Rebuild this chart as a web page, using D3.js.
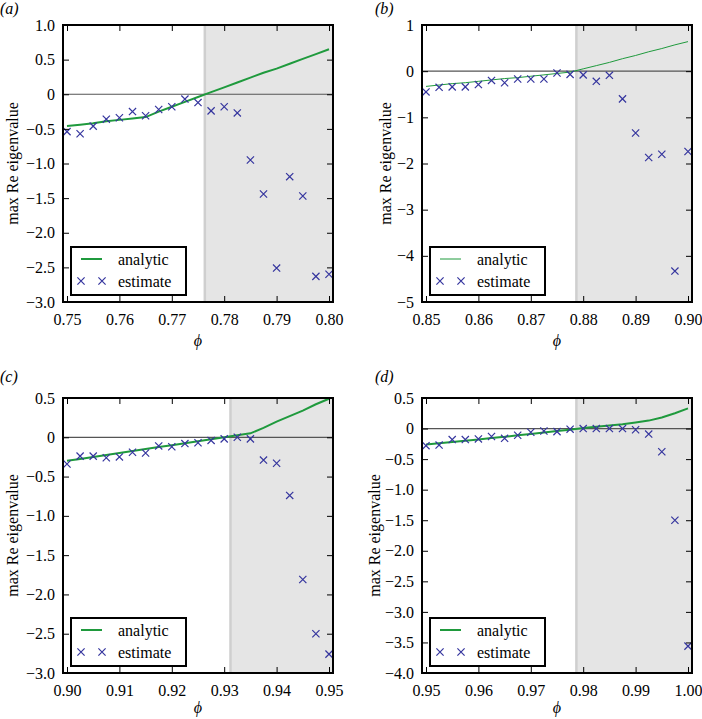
<!DOCTYPE html>
<html>
<head>
<meta charset="utf-8">
<script src="https://cdn.jsdelivr.net/npm/d3@7"></script>
</head>
<body style="margin:0; background:#fff">
<script>
// phi grids (x values) for each panel
const phiA = [0.75, 0.7525, 0.755, 0.7575, 0.76, 0.7625, 0.765, 0.7675, 0.77, 0.7725, 0.775, 0.7775, 0.78, 0.7825, 0.785, 0.7875, 0.79, 0.7925, 0.795, 0.7975, 0.80];
const phiB = [0.85, 0.8525, 0.855, 0.8575, 0.86, 0.8625, 0.865, 0.8675, 0.87, 0.8725, 0.875, 0.8775, 0.88, 0.8825, 0.885, 0.8875, 0.89, 0.8925, 0.895, 0.8975, 0.90];
const phiC = [0.90, 0.9025, 0.905, 0.9075, 0.91, 0.9125, 0.915, 0.9175, 0.92, 0.9225, 0.925, 0.9275, 0.93, 0.9325, 0.935, 0.9375, 0.94, 0.9425, 0.945, 0.9475, 0.95];
const phiD = [0.95, 0.9525, 0.955, 0.9575, 0.96, 0.9625, 0.965, 0.9675, 0.97, 0.9725, 0.975, 0.9775, 0.98, 0.9825, 0.985, 0.9875, 0.99, 0.9925, 0.995, 0.9975, 1.00];

// estimated max Re eigenvalue (crosses)
const estimateA = [-0.54, -0.57, -0.46, -0.36, -0.34, -0.25, -0.31, -0.22, -0.18, -0.07, -0.12, -0.24, -0.18, -0.27, -0.95, -1.44, -2.51, -1.19, -1.47, -2.63, -2.60];
const estimateB = [-0.45, -0.35, -0.34, -0.34, -0.29, -0.20, -0.25, -0.17, -0.17, -0.17, -0.04, -0.07, -0.08, -0.22, -0.09, -0.60, -1.34, -1.87, -1.80, -4.33, -1.74];
const estimateC = [-0.34, -0.24, -0.24, -0.26, -0.25, -0.19, -0.20, -0.11, -0.12, -0.08, -0.07, -0.04, -0.02, 0.00, -0.02, -0.29, -0.33, -0.74, -1.81, -2.50, -2.76];
const estimateD = [-0.28, -0.27, -0.18, -0.18, -0.17, -0.13, -0.16, -0.11, -0.06, -0.04, -0.05, -0.01, 0.00, 0.00, 0.00, 0.00, -0.02, -0.09, -0.38, -1.50, -3.56];

// analytic curve (green line)
const analyticA = [-0.46, -0.44, -0.42, -0.39, -0.37, -0.35, -0.33, -0.25, -0.18, -0.11, -0.04, 0.03, 0.10, 0.17, 0.24, 0.31, 0.37, 0.44, 0.51, 0.58, 0.65];
const analyticB = [-0.33, -0.30, -0.27, -0.25, -0.22, -0.19, -0.16, -0.14, -0.11, -0.08, -0.05, -0.02, 0.05, 0.12, 0.19, 0.27, 0.34, 0.42, 0.49, 0.57, 0.64];
const analyticC = [-0.30, -0.275, -0.25, -0.225, -0.20, -0.175, -0.15, -0.125, -0.10, -0.075, -0.05, -0.025, 0.00, 0.025, 0.05, 0.12, 0.20, 0.27, 0.34, 0.42, 0.49];
const analyticD = [-0.26, -0.24, -0.22, -0.20, -0.18, -0.155, -0.135, -0.11, -0.09, -0.065, -0.04, -0.02, 0.01, 0.03, 0.05, 0.07, 0.10, 0.13, 0.18, 0.25, 0.33];

// start of the shaded (unstable) region
const thresholdA = 0.7763;
const thresholdB = 0.8787;
const thresholdC = 0.9312;
const thresholdD = 0.9787;

// tick values
const xTicksA = [0.75, 0.76, 0.77, 0.78, 0.79, 0.80];
const xTicksB = [0.85, 0.86, 0.87, 0.88, 0.89, 0.90];
const xTicksC = [0.90, 0.91, 0.92, 0.93, 0.94, 0.95];
const xTicksD = [0.95, 0.96, 0.97, 0.98, 0.99, 1.00];
const yTicksA = [1.0, 0.5, 0, -0.5, -1.0, -1.5, -2.0, -2.5, -3.0];
const yTicksB = [1, 0, -1, -2, -3, -4, -5];
const yTicksC = [0.5, 0, -0.5, -1.0, -1.5, -2.0, -2.5, -3.0];
const yTicksD = [0.5, 0, -0.5, -1.0, -1.5, -2.0, -2.5, -3.0, -3.5, -4.0];

const panelLabels = ["(a)", "(b)", "(c)", "(d)"];

const serif = "'Liberation Serif'";

const svg = d3.select("body")
    .append("svg")
    .attr("width", 702)
    .attr("height", 719);

const green = "#1f9a3d";
const blue = "#35359e";

const panels = [
    { label: panelLabels[0], phi: phiA, est: estimateA, ana: analyticA, thr: thresholdA, xt: xTicksA, yt: yTicksA, left: 63, top: 25, h: 277, lineW: 2, dec: 1, xlab: 44, ylab: -45, plab: -11 },
    { label: panelLabels[1], phi: phiB, est: estimateB, ana: analyticB, thr: thresholdB, xt: xTicksB, yt: yTicksB, left: 422, top: 25, h: 277, lineW: 1, dec: 0, xlab: 44, ylab: -31, plab: -11 },
    { label: panelLabels[2], phi: phiC, est: estimateC, ana: analyticC, thr: thresholdC, xt: xTicksC, yt: yTicksC, left: 63, top: 398, h: 275, lineW: 2, dec: 1, xlab: 40, ylab: -45, plab: -16 },
    { label: panelLabels[3], phi: phiD, est: estimateD, ana: analyticD, thr: thresholdD, xt: xTicksD, yt: yTicksD, left: 422, top: 398, h: 275, lineW: 2, dec: 1, xlab: 40, ylab: -42, plab: -16 }
];

const width = 270;
const xPad = 4; // small margin between frame and first/last x tick

// helper so every text gets the same serif face
const styleText = sel => sel
    .style("font-family", serif)
    .style("font-size", "16px")
    .style("fill", "#000");

panels.forEach(function (p) {
    const g = svg.append("g").attr("transform", "translate(" + p.left + "," + p.top + ")");

    const x = d3.scaleLinear()
        .domain(d3.extent(p.xt))
        .range([xPad, width - xPad]);

    const y = d3.scaleLinear()
        .domain(d3.extent(p.yt))
        .range([p.h, 0]);

    // shaded region + its edge
    g.append("rect")
        .attr("x", x(p.thr))
        .attr("y", 0)
        .attr("width", width - x(p.thr))
        .attr("height", p.h)
        .style("fill", "#e5e5e5");
    g.append("line")
        .attr("x1", x(p.thr)).attr("x2", x(p.thr))
        .attr("y1", 0).attr("y2", p.h)
        .style("stroke", "#cfcfcf")
        .style("stroke-width", 2.5);

    // zero line
    g.append("line")
        .attr("x1", 0).attr("x2", width)
        .attr("y1", y(0)).attr("y2", y(0))
        .style("stroke", "#555")
        .style("stroke-width", 1.2);

    // analytic line
    const line = d3.line()
        .x((d, i) => x(p.phi[i]))
        .y(d => y(d));
    g.append("path")
        .datum(p.ana)
        .attr("d", line)
        .style("fill", "none")
        .style("stroke", green)
        .style("stroke-width", p.lineW);

    // estimate crosses
    const s = 3.6;
    g.selectAll(".cross")
        .data(p.est)
        .enter()
        .append("path")
        .attr("class", "cross")
        .attr("d", (d, i) => {
            const cx = x(p.phi[i]), cy = y(d);
            return "M" + (cx - s) + "," + (cy - s) + "L" + (cx + s) + "," + (cy + s) +
                "M" + (cx - s) + "," + (cy + s) + "L" + (cx + s) + "," + (cy - s);
        })
        .style("stroke", blue)
        .style("stroke-width", 1.2)
        .style("fill", "none");

    // axes: ticks inward on all four sides
    const yFmt = d => d === 0 ? "0" : d3.format("." + p.dec + "f")(d);
    const tickLen = 6;

    const bottom = g.append("g")
        .attr("transform", "translate(0," + p.h + ")")
        .call(d3.axisBottom(x).tickValues(p.xt).tickSize(-tickLen).tickPadding(12).tickFormat(d3.format(".2f")));
    const topAx = g.append("g")
        .call(d3.axisTop(x).tickValues(p.xt).tickSize(-tickLen).tickFormat(""));
    const leftAx = g.append("g")
        .call(d3.axisLeft(y).tickValues(p.yt).tickSize(-tickLen).tickPadding(8).tickFormat(yFmt));
    const rightAx = g.append("g")
        .attr("transform", "translate(" + width + ",0)")
        .call(d3.axisRight(y).tickValues(p.yt).tickSize(-tickLen).tickFormat(""));

    [bottom, topAx, leftAx, rightAx].forEach(a => {
        a.attr("font-family", null).attr("font-size", null);
        a.select(".domain").remove();
        a.selectAll(".tick line").style("stroke", "#000").style("stroke-width", 1);
        a.selectAll("text").call(styleText);
    });

    // frame
    g.append("rect")
        .attr("width", width)
        .attr("height", p.h)
        .style("fill", "none")
        .style("stroke", "#000")
        .style("stroke-width", 2);

    // legend
    const lg = g.append("g").attr("transform", "translate(8," + (p.h - 55) + ")");
    lg.append("rect")
        .attr("width", 115)
        .attr("height", 48)
        .style("fill", "#fff")
        .style("stroke", "#000")
        .style("stroke-width", 2);
    lg.append("line")
        .attr("x1", 10).attr("x2", 31)
        .attr("y1", 12).attr("y2", 12)
        .style("stroke", green)
        .style("stroke-width", p.lineW);
    lg.append("text").attr("x", 47).attr("y", 17.5).text("analytic").call(styleText);
    [10, 31].forEach(cx => {
        const cy = 34;
        lg.append("path")
            .attr("d", "M" + (cx - s) + "," + (cy - s) + "L" + (cx + s) + "," + (cy + s) +
                "M" + (cx - s) + "," + (cy + s) + "L" + (cx + s) + "," + (cy - s))
            .style("stroke", blue)
            .style("stroke-width", 1.2);
    });
    lg.append("text").attr("x", 47).attr("y", 39.5).text("estimate").call(styleText);

    // axis titles
    g.append("text")
        .attr("x", width / 2)
        .attr("y", p.h + p.xlab)
        .attr("text-anchor", "middle")
        .text("\u03D5")
        .call(styleText)
        .style("font-style", "italic");
    g.append("text")
        .attr("transform", "translate(" + p.ylab + "," + (p.h / 2) + ") rotate(-90)")
        .attr("text-anchor", "middle")
        .text("max Re eigenvalue")
        .call(styleText);

    // panel label
    g.append("text")
        .attr("x", p.left < 100 ? -63 : -47)
        .attr("y", p.plab)
        .text(p.label)
        .call(styleText)
        .style("font-style", "italic");
});
</script>
</body>
</html>
